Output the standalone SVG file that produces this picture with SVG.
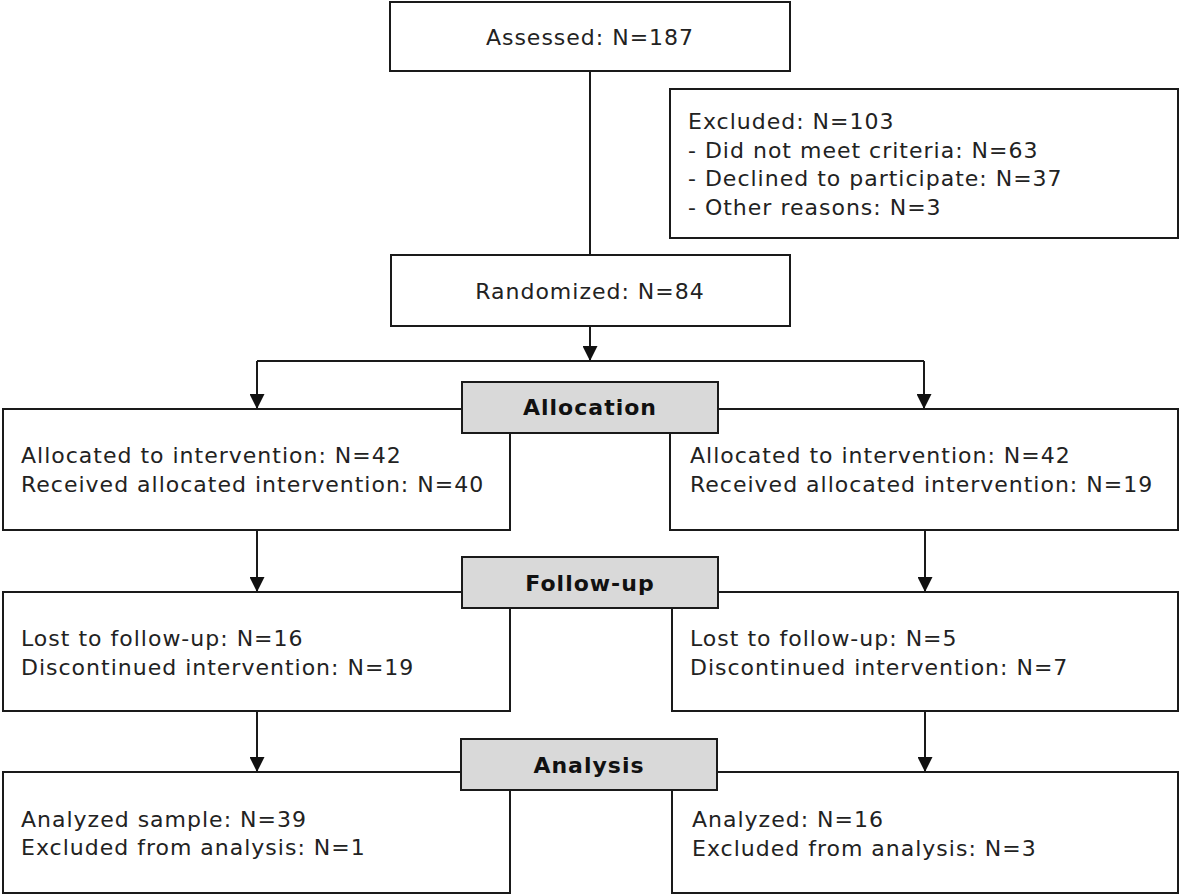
<svg xmlns="http://www.w3.org/2000/svg" width="1181" height="896" viewBox="0 0 1181 896">
<defs>
<style>
.box{fill:#ffffff;stroke:#1a1a1a;stroke-width:2}
.lab{fill:#d9d9d9;stroke:#1a1a1a;stroke-width:2}
.t{font-family:"DejaVu Sans",Verdana,sans-serif;font-size:22px;letter-spacing:1px;fill:#222222}
.c{text-anchor:middle}
.b{font-weight:bold;fill:#111111}
.ln{fill:none;stroke:#1a1a1a;stroke-width:2}
</style>
<marker id="ah" markerUnits="userSpaceOnUse" markerWidth="15" markerHeight="15" refX="15" refY="7.5" orient="auto">
<path d="M0,0 L15,7.5 L0,15 Z" fill="#111111"/>
</marker>
</defs>
<rect width="1181" height="896" fill="#ffffff"/>
<g id="connectors">
<line class="ln" x1="590" y1="71" x2="590" y2="255"/>
<line class="ln" x1="590" y1="326" x2="590" y2="361" marker-end="url(#ah)"/>
<line class="ln" x1="257" y1="361" x2="924" y2="361"/>
<line class="ln" x1="257" y1="361" x2="257" y2="409" marker-end="url(#ah)"/>
<line class="ln" x1="924" y1="361" x2="924" y2="409" marker-end="url(#ah)"/>
<line class="ln" x1="257" y1="530" x2="257" y2="592" marker-end="url(#ah)"/>
<line class="ln" x1="925" y1="530" x2="925" y2="592" marker-end="url(#ah)"/>
<line class="ln" x1="257" y1="711" x2="257" y2="772" marker-end="url(#ah)"/>
<line class="ln" x1="925" y1="711" x2="925" y2="772" marker-end="url(#ah)"/>
</g>
<g id="assessed">
<rect class="box" x="390" y="2" width="400" height="69"/>
<text class="t c" x="590" y="45">Assessed: N=187</text>
</g>
<g id="excluded">
<rect class="box" x="670" y="89" width="508" height="149"/>
<text class="t" x="688" y="129">Excluded: N=103</text>
<text class="t" x="688" y="157.5">- Did not meet criteria: N=63</text>
<text class="t" x="688" y="186">- Declined to participate: N=37</text>
<text class="t" x="688" y="214.5">- Other reasons: N=3</text>
</g>
<g id="randomized">
<rect class="box" x="391" y="255" width="399" height="71"/>
<text class="t c" x="590" y="299">Randomized: N=84</text>
</g>
<g id="alloc-left">
<rect class="box" x="3" y="409" width="507" height="121"/>
<text class="t" x="21" y="463">Allocated to intervention: N=42</text>
<text class="t" x="21" y="492">Received allocated intervention: N=40</text>
</g>
<g id="alloc-right">
<rect class="box" x="670" y="409" width="508" height="121"/>
<text class="t" x="690" y="463">Allocated to intervention: N=42</text>
<text class="t" x="690" y="492">Received allocated intervention: N=19</text>
</g>
<g id="follow-left">
<rect class="box" x="3" y="592" width="507" height="119"/>
<text class="t" x="21" y="646">Lost to follow-up: N=16</text>
<text class="t" x="21" y="675">Discontinued intervention: N=19</text>
</g>
<g id="follow-right">
<rect class="box" x="672" y="592" width="506" height="119"/>
<text class="t" x="690" y="646">Lost to follow-up:  N=5</text>
<text class="t" x="690" y="675">Discontinued intervention:  N=7</text>
</g>
<g id="analysis-left">
<rect class="box" x="3" y="772" width="507" height="121"/>
<text class="t" x="21" y="827">Analyzed sample: N=39</text>
<text class="t" x="21" y="855">Excluded from analysis: N=1</text>
</g>
<g id="analysis-right">
<rect class="box" x="672" y="772" width="506" height="121"/>
<text class="t" x="692" y="827">Analyzed: N=16</text>
<text class="t" x="692" y="856">Excluded from analysis: N=3</text>
</g>
<g id="allocation">
<rect class="lab" x="462" y="382" width="256" height="51"/>
<text class="t c b" x="590" y="415">Allocation</text>
</g>
<g id="follow-up">
<rect class="lab" x="462" y="557" width="256" height="51"/>
<text class="t c b" x="590" y="591">Follow-up</text>
</g>
<g id="analysis">
<rect class="lab" x="461" y="739" width="256" height="51"/>
<text class="t c b" x="589" y="773">Analysis</text>
</g>
</svg>
